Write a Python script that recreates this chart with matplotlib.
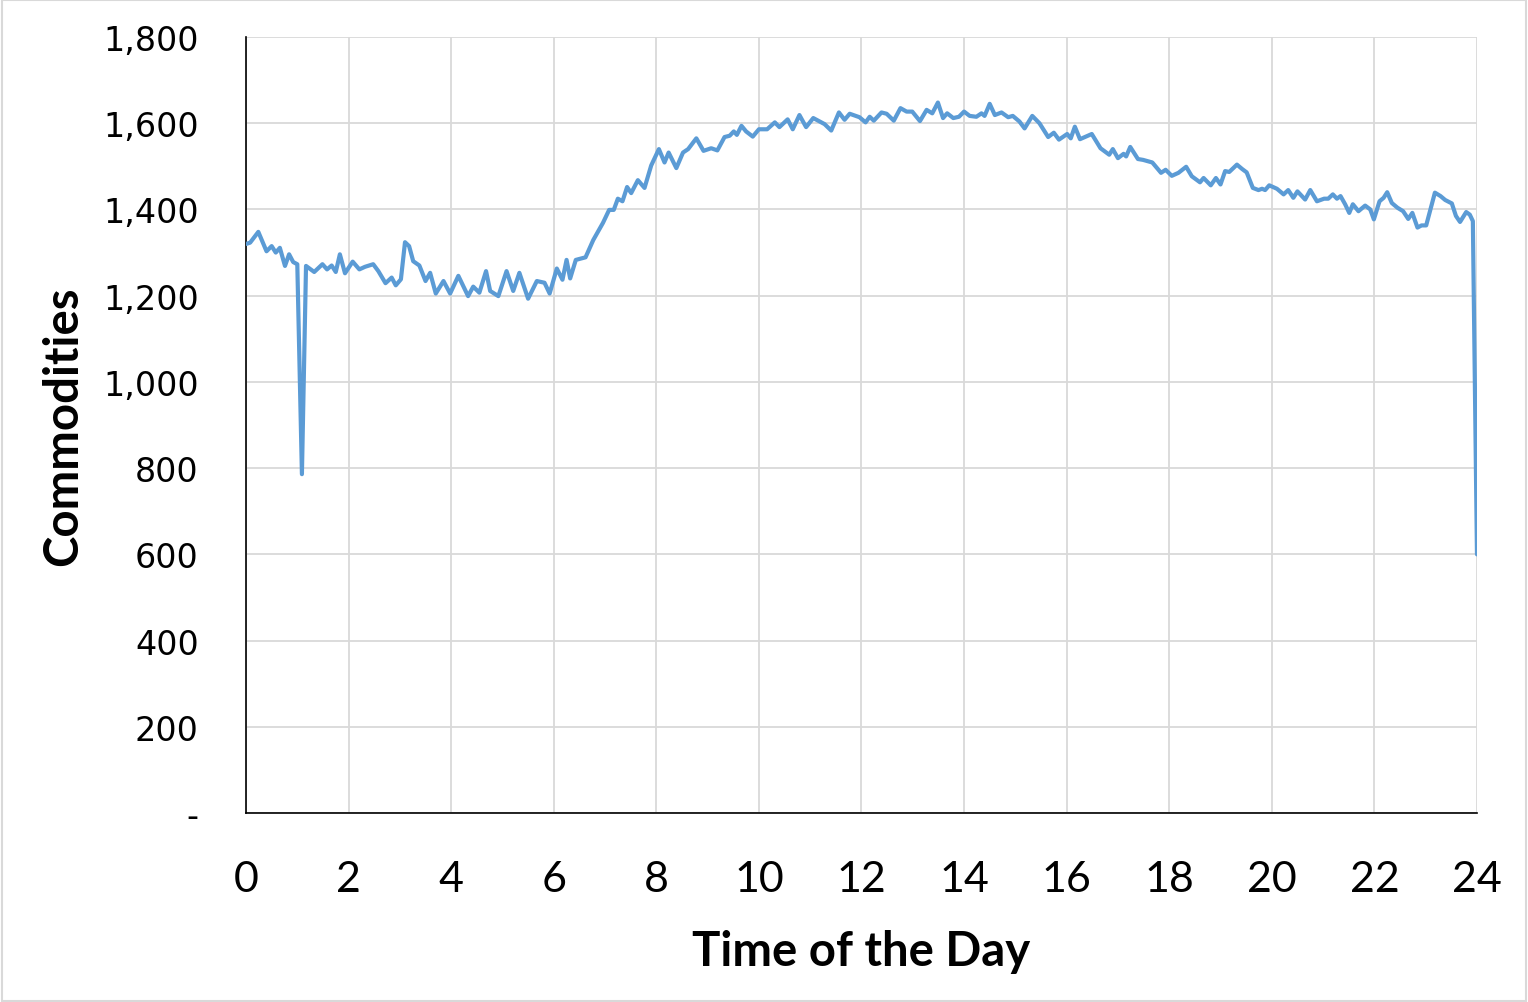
import matplotlib
matplotlib.use("Agg")
import matplotlib.pyplot as plt
from matplotlib.patches import Rectangle
from matplotlib.ticker import FuncFormatter

# ---- data (hour of day, commodities) ----
hours = [0.0, 0.08, 0.24, 0.40, 0.50, 0.58, 0.66, 0.76, 0.84, 0.92, 1.00, 1.09, 1.17,
         1.33, 1.49, 1.58, 1.67, 1.75, 1.83, 1.93, 2.08, 2.21, 2.32, 2.48, 2.58, 2.72,
         2.84, 2.92, 3.02, 3.10, 3.18, 3.26, 3.38, 3.50, 3.59, 3.70, 3.85, 3.98, 4.14,
         4.33, 4.43, 4.55, 4.68, 4.76, 4.92, 5.08, 5.21, 5.33, 5.50, 5.67, 5.82, 5.92,
         6.06, 6.17, 6.25, 6.32, 6.43, 6.62, 6.77, 6.96, 7.08, 7.17, 7.25, 7.34, 7.43,
         7.51, 7.64, 7.77, 7.90, 8.05, 8.16, 8.24, 8.39, 8.52, 8.62, 8.78, 8.92, 9.07,
         9.19, 9.33, 9.43, 9.51, 9.57, 9.66, 9.75, 9.88, 10.00, 10.16, 10.31, 10.40,
         10.56, 10.66, 10.79, 10.92, 11.06, 11.28, 11.41, 11.56, 11.67, 11.77, 11.96,
         12.08, 12.16, 12.24, 12.39, 12.49, 12.63, 12.76, 12.88, 12.99, 13.14, 13.27,
         13.38, 13.49, 13.59, 13.67, 13.79, 13.90, 14.00, 14.11, 14.24, 14.34, 14.40,
         14.50, 14.60, 14.73, 14.86, 14.95, 15.08, 15.18, 15.33, 15.47, 15.64, 15.75,
         15.85, 16.01, 16.08, 16.16, 16.26, 16.49, 16.66, 16.83, 16.90, 17.00, 17.11,
         17.16, 17.24, 17.39, 17.49, 17.67, 17.84, 17.93, 18.05, 18.18, 18.33, 18.44,
         18.60, 18.67, 18.81, 18.91, 19.00, 19.09, 19.17, 19.32, 19.42, 19.51, 19.63,
         19.74, 19.81, 19.87, 19.95, 20.10, 20.23, 20.32, 20.42, 20.50, 20.65, 20.75,
         20.88, 21.02, 21.10, 21.19, 21.27, 21.34, 21.43, 21.51, 21.58, 21.69, 21.82,
         21.92, 21.99, 22.10, 22.18, 22.25, 22.34, 22.45, 22.56, 22.66, 22.74, 22.84,
         22.92, 23.01, 23.18, 23.29, 23.38, 23.51, 23.59, 23.67, 23.79, 23.86, 23.92,
         24.00]
commodities = [1320, 1323, 1348, 1303, 1315, 1300, 1311, 1269, 1296, 1278, 1273, 786, 1269,
               1255, 1273, 1261, 1270, 1255, 1296, 1252, 1279, 1261, 1267, 1273, 1257, 1229,
               1242, 1224, 1238, 1324, 1315, 1280, 1270, 1234, 1253, 1205, 1234, 1205, 1246,
               1199, 1221, 1207, 1257, 1211, 1199, 1257, 1211, 1253, 1193, 1234, 1230, 1205,
               1263, 1237, 1283, 1240, 1283, 1289, 1329, 1369, 1399, 1399, 1425, 1419, 1452,
               1438, 1468, 1450, 1502, 1540, 1509, 1532, 1496, 1532, 1540, 1565, 1536, 1542,
               1537, 1568, 1571, 1581, 1573, 1594, 1581, 1569, 1586, 1586, 1602, 1591,
               1609, 1586, 1619, 1591, 1612, 1598, 1583, 1625, 1608, 1622, 1614,
               1602, 1615, 1606, 1625, 1622, 1606, 1635, 1627, 1627, 1605, 1631,
               1623, 1648, 1612, 1623, 1612, 1615, 1627, 1617, 1615, 1623, 1617,
               1645, 1619, 1625, 1614, 1617, 1604, 1588, 1617, 1600, 1568, 1578,
               1562, 1575, 1565, 1592, 1563, 1575, 1542, 1527, 1540, 1519, 1529,
               1523, 1545, 1517, 1515, 1509, 1485, 1492, 1478, 1485, 1499, 1477,
               1463, 1473, 1456, 1473, 1458, 1489, 1487, 1504, 1494, 1486, 1450,
               1445, 1448, 1445, 1456, 1448, 1435, 1445, 1427, 1442, 1423, 1445,
               1419, 1425, 1425, 1435, 1425, 1431, 1412, 1392, 1412, 1396, 1409,
               1400, 1377, 1419, 1427, 1440, 1415, 1404, 1396, 1378, 1392, 1358,
               1363, 1363, 1439, 1431, 1422, 1414, 1385, 1371, 1394, 1388, 1373,
               600]

x_ticks = list(range(0, 25, 2))
y_ticks = list(range(0, 1801, 200))

fig = plt.figure(figsize=(15.28, 10.03), dpi=100)
ax = fig.add_axes([0.161, 0.1884, 0.8056, 0.7737])

ax.plot(hours, commodities, color='#5B9BD5', linewidth=3.0, solid_joinstyle='round',
        solid_capstyle='round', zorder=3)

ax.set_xlim(0, 24)
ax.set_ylim(0, 1800)
ax.set_xticks(x_ticks)
ax.set_yticks(y_ticks)
ax.yaxis.set_major_formatter(FuncFormatter(lambda v, p: '-' if v == 0 else '{:,.0f}'.format(v)))

ax.grid(True, color='#D9D9D9', linewidth=1.3, zorder=0)
ax.set_axisbelow(True)
for s in ['top', 'right']:
    ax.spines[s].set_visible(False)
for s in ['left', 'bottom']:
    ax.spines[s].set_color('black')
    ax.spines[s].set_linewidth(1.2)

ax.tick_params(axis='both', length=0)
ax.tick_params(axis='y', pad=34, labelsize=24)
ax.tick_params(axis='x', pad=34, labelsize=31)
for lab in ax.get_xticklabels():
    lab.set_fontfamily('Lato')
for lab in ax.get_yticklabels():
    lab.set_fontfamily('DejaVu Sans')

ax.set_xlabel('Time of the Day', fontsize=34, fontweight='bold',
              family='Lato', labelpad=22)
ax.set_ylabel('Commodities', fontsize=34, fontweight='bold',
              family='Lato', labelpad=13)

# light frame round the whole chart
fig.add_artist(Rectangle((0.001, 0.001), 0.998, 0.998, transform=fig.transFigure,
                         fill=False, edgecolor='#D9D9D9', linewidth=1.5))

fig.savefig('out.png', dpi=100)
